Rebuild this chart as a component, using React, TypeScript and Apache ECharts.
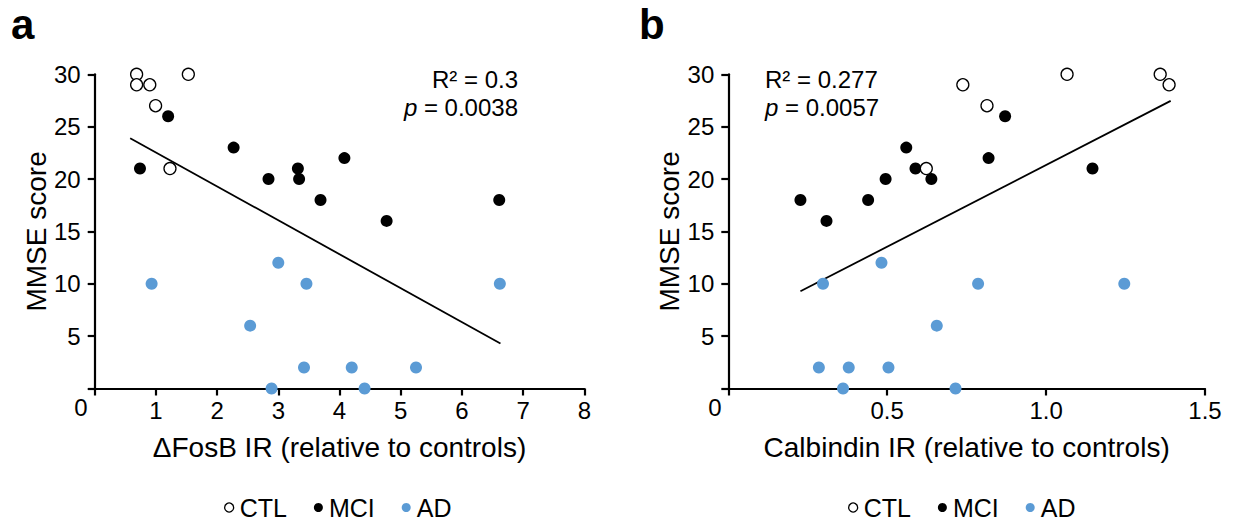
import React, { useEffect, useRef } from "react";
import * as echarts from "echarts";

// ΔFosB panel (a)
const ctlFos = [[0.685, 30], [0.685, 29], [0.9, 29], [0.995, 27], [1.53, 30], [1.23, 21]];
const mciFos = [[0.74, 21], [1.2, 26], [2.27, 23], [2.84, 20], [3.32, 21], [3.34, 20], [3.69, 18], [4.08, 22], [4.77, 16], [6.61, 18]];
const adFos = [[0.93, 10], [2.54, 6], [2.89, 0], [3.0, 12], [3.42, 2], [3.46, 10], [4.2, 2], [4.41, 0], [5.25, 2], [6.62, 10]];
const fitFos = [[0.58, 23.9], [6.63, 4.3]];

// Calbindin panel (b)
const ctlCal = [[0.623, 21], [0.738, 29], [0.814, 27], [1.066, 30], [1.359, 30], [1.387, 29]];
const mciCal = [[0.227, 18], [0.309, 16], [0.44, 18], [0.495, 20], [0.56, 23], [0.589, 21], [0.639, 20], [0.819, 22], [0.871, 26], [1.146, 21]];
const adCal = [[0.285, 2], [0.298, 10], [0.361, 0], [0.379, 2], [0.482, 12], [0.504, 2], [0.656, 6], [0.715, 0], [0.786, 10], [1.246, 10]];
const fitCal = [[0.227, 9.28], [1.392, 27.46]];

const groupNames = ["CTL", "MCI", "AD"];
const xTitles = ["ΔFosB IR (relative to controls)", "Calbindin IR (relative to controls)"];
const yTitle = "MMSE score";
const statsA = ["R² = 0.3", "0.0038"];
const statsB = ["R² = 0.277", "0.0057"];

const FONT = "'Liberation Sans', Arial, sans-serif";
const BLUE = "#5B9BD5";

const styles: Record<string, any> = {
  CTL: { color: "#ffffff", borderColor: "#000000", borderWidth: 1.3, opacity: 1 },
  MCI: { color: "#000000", opacity: 1 },
  AD: { color: BLUE, opacity: 1 },
};

export default function App() {
  const ref = useRef<HTMLDivElement>(null);
  useEffect(() => {
    if (!ref.current) return;
    const chart = echarts.init(ref.current, null, { renderer: "svg" });

    const axisCommon = {
      axisLine: { show: true, onZero: false, lineStyle: { color: "#000", width: 2.2 } },
      axisTick: { show: true, length: 7, lineStyle: { color: "#000", width: 2.2 } },
      splitLine: { show: false },
      axisLabel: { color: "#000", fontSize: 24, fontFamily: FONT },
      nameTextStyle: { color: "#000", fontSize: 28, fontFamily: FONT },
    };

    const yAxisFor = (gi: number) => ({
      ...axisCommon,
      type: "value",
      gridIndex: gi,
      min: 0,
      max: 30,
      interval: 5,
      name: yTitle,
      nameLocation: "middle",
      nameGap: 44,
      axisLabel: { ...axisCommon.axisLabel, margin: 14, formatter: (v: number) => (v === 0 ? "" : String(v)) },
    });

    const scatter = (name: string, data: number[][], gi: number) => ({
      type: "scatter",
      name,
      xAxisIndex: gi,
      yAxisIndex: gi,
      data,
      symbol: "circle",
      symbolSize: 12,
      clip: false,
      itemStyle: styles[name],
      emphasis: { disabled: true },
      z: name === "CTL" ? 5 : 4,
    });
    const fit = (data: number[][], gi: number) => ({
      type: "line",
      xAxisIndex: gi,
      yAxisIndex: gi,
      data,
      symbol: "none",
      silent: true,
      lineStyle: { color: "#000", width: 1.8 },
      z: 2,
    });

    const legendFor = (left: number) => ({
      left,
      top: 490,
      icon: "circle",
      itemWidth: 9,
      itemHeight: 9,
      itemGap: 27,
      selectedMode: false,
      textStyle: { color: "#000", fontSize: 25, fontFamily: FONT, padding: [0, 0, 0, 1] },
      data: groupNames.map((n) => ({ name: n, itemStyle: styles[n] })),
    });

    const statText = (x: number, align: string, lines: string[]) => [
      {
        type: "text",
        x,
        y: 79,
        style: { text: lines[0], font: `24px ${FONT}`, fill: "#000", align, verticalAlign: "middle" },
      },
      {
        type: "text",
        x,
        y: 107,
        style: {
          text: `{i|p}{n| = ${lines[1]}}`,
          fill: "#000",
          align,
          verticalAlign: "middle",
          font: `24px ${FONT}`,
          rich: {
            i: { fontStyle: "italic", fontSize: 24, fontFamily: FONT, fill: "#000" },
            n: { fontSize: 24, fontFamily: FONT, fill: "#000" },
          },
        },
      },
    ];

    chart.setOption({
      animation: false,
      backgroundColor: "#fff",
      grid: [
        { left: 94.7, width: 489.6, top: 74.3, height: 314.2 },
        { left: 728.3, width: 476.7, top: 74.3, height: 314.2 },
      ],
      xAxis: [
        {
          ...axisCommon,
          type: "value",
          gridIndex: 0,
          min: 0,
          max: 8,
          interval: 1,
          name: xTitles[0],
          nameLocation: "middle",
          nameGap: 45,
          axisLabel: { ...axisCommon.axisLabel, margin: 10, formatter: (v: number) => (v === 0 ? "" : String(v)) },
        },
        {
          ...axisCommon,
          type: "value",
          gridIndex: 1,
          min: 0,
          max: 1.5,
          interval: 0.5,
          name: xTitles[1],
          nameLocation: "middle",
          nameGap: 45,
          axisLabel: { ...axisCommon.axisLabel, margin: 10, formatter: (v: number) => (v === 0 ? "" : v.toFixed(1)) },
        },
      ],
      yAxis: [yAxisFor(0), yAxisFor(1)],
      legend: [legendFor(219), legendFor(843)],
      series: [
        fit(fitFos, 0),
        scatter("AD", adFos, 0),
        scatter("MCI", mciFos, 0),
        scatter("CTL", ctlFos, 0),
        fit(fitCal, 1),
        scatter("AD", adCal, 1),
        scatter("MCI", mciCal, 1),
        scatter("CTL", ctlCal, 1),
      ],
      graphic: [
        { type: "text", x: 11, y: 24, style: { text: "a", font: `bold 42px ${FONT}`, fill: "#000", verticalAlign: "middle" } },
        { type: "text", x: 639, y: 24, style: { text: "b", font: `bold 42px ${FONT}`, fill: "#000", verticalAlign: "middle" } },
        { type: "text", x: 81, y: 407, style: { text: "0", font: `24px ${FONT}`, fill: "#000", align: "center", verticalAlign: "middle" } },
        { type: "text", x: 715, y: 407, style: { text: "0", font: `24px ${FONT}`, fill: "#000", align: "center", verticalAlign: "middle" } },
        ...statText(518, "right", statsA),
        ...statText(765, "left", statsB),
      ],
    });
    return () => chart.dispose();
  }, []);
  return <div ref={ref} style={{ position: "fixed", left: 0, top: 0, width: 1233, height: 523 }} />;
}
